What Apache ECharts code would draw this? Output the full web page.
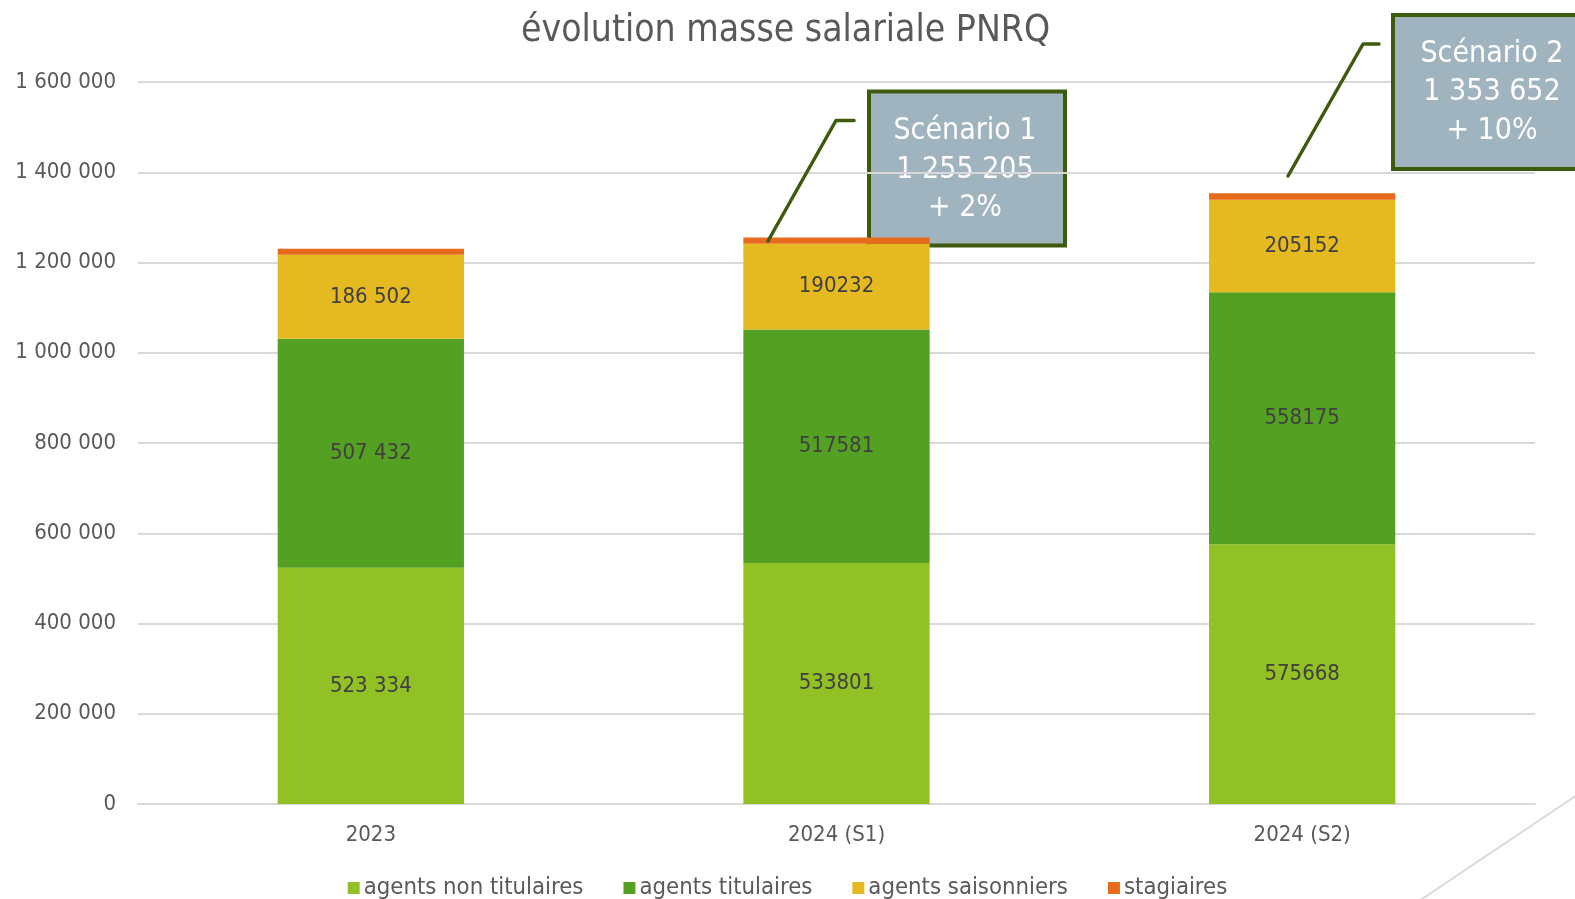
<!DOCTYPE html>
<html>
<head>
<meta charset="utf-8">
<script src="https://cdn.jsdelivr.net/npm/echarts@6/dist/echarts.min.js"></script>
<style>
html,body{margin:0;padding:0;background:#fff;}
#chart{width:1575px;height:899px;}
</style>
</head>
<body>
<div id="chart"></div>
<script>
const categories = ['2023', '2024 (S1)', '2024 (S2)'];
const seriesNames = ['agents non titulaires', 'agents titulaires', 'agents saisonniers', 'stagiaires'];
const nonTitulaires = [523334, 533801, 575668];
const titulaires = [507432, 517581, 558175];
const saisonniers = [186502, 190232, 205152];
const stagiaires = [13325, 13591, 14657];
const scenario1Lines = ['Scénario 1', '1 255 205', '+ 2%'];
const scenario2Lines = ['Scénario 2', '1 353 652', '+ 10%'];

const FONT = 'DejaVu Sans Condensed';
const colors = ['#92C126', '#54A022', '#E5B920', '#E86A1C'];

function spaced(v) {
  return String(v).replace(/\B(?=(\d{3})+(?!\d))/g, ' ');
}
function labelFmt(p) {
  return p.dataIndex === 0 ? spaced(p.value) : String(p.value);
}

const chart = echarts.init(document.getElementById('chart'));
const seriesData = [nonTitulaires, titulaires, saisonniers, stagiaires];
const series = seriesData.map((d, i) => ({
  name: seriesNames[i],
  type: 'bar',
  stack: 'total',
  data: d,
  barWidth: '40%',
  itemStyle: { color: colors[i] },
  label: {
    show: i < 3,
    position: 'inside',
    formatter: labelFmt,
    color: '#404040',
    fontFamily: FONT,
    fontSize: 22
  },
  emphasis: { disabled: true }
}));

const boxBorder = '#3E5A0C';
const boxFill = '#A0B4BF';
function calloutText(lines, x, y0, z) {
  return lines.map((t, i) => ({
    type: 'text', z: z + 1,
    style: {
      text: t, x: x, y: y0 + i * 38.3, align: 'center', verticalAlign: 'middle',
      fill: '#fff', font: '30px "' + FONT + '"'
    }
  }));
}

chart.setOption({
  animation: false,
  title: {
    text: 'évolution masse salariale PNRQ',
    left: 516, top: 8,
    textStyle: { fontFamily: FONT, fontSize: 37, fontWeight: 'normal', color: '#595959' }
  },
  legend: {
    bottom: -6, left: 'center',
    itemWidth: 12, itemHeight: 12, itemGap: 40,
    icon: 'rect',
    textStyle: { fontFamily: FONT, fontSize: 23.7, color: '#595959', padding: [0, 0, 0, -1] }
  },
  grid: { left: 138, right: 40, top: 82, bottom: 95 },
  xAxis: {
    type: 'category', data: categories,
    axisLine: { lineStyle: { color: '#D9D9D9', width: 2 } },
    axisTick: { show: false },
    axisLabel: { fontFamily: FONT, fontSize: 22, color: '#595959', margin: 20 }
  },
  yAxis: {
    type: 'value', min: 0, max: 1600000, interval: 200000,
    axisLine: { show: false }, axisTick: { show: false },
    splitLine: { lineStyle: { color: '#D9D9D9', width: 2 } },
    axisLabel: { fontFamily: FONT, fontSize: 22, color: '#595959', margin: 22,
      formatter: v => spaced(v) }
  },
  series: series,
  graphic: [
    { type: 'rect', z: -1, shape: { x: 869, y: 91.5, width: 196, height: 154 },
      style: { fill: boxFill, stroke: boxBorder, lineWidth: 4 } },
    ...calloutText(scenario1Lines, 965, 131.6, -1),
    { type: 'polyline', z: 100, shape: { points: [[768, 241], [836, 120.5], [854, 120.5]] },
      style: { stroke: boxBorder, lineWidth: 3.5, fill: null, lineCap: 'round', lineJoin: 'round' } },
    { type: 'rect', z: 100, shape: { x: 1393, y: 15, width: 200, height: 154 },
      style: { fill: boxFill, stroke: boxBorder, lineWidth: 4 } },
    ...calloutText(scenario2Lines, 1492, 54.2, 100),
    { type: 'polyline', z: 100, shape: { points: [[1288, 176], [1363, 44], [1379, 44]] },
      style: { stroke: boxBorder, lineWidth: 3.5, fill: null, lineCap: 'round', lineJoin: 'round' } },
    { type: 'line', z: 100, shape: { x1: 1416, y1: 903, x2: 1580, y2: 793 },
      style: { stroke: '#D9D9D9', lineWidth: 2 } }
  ]
});
</script>
</body>
</html>
